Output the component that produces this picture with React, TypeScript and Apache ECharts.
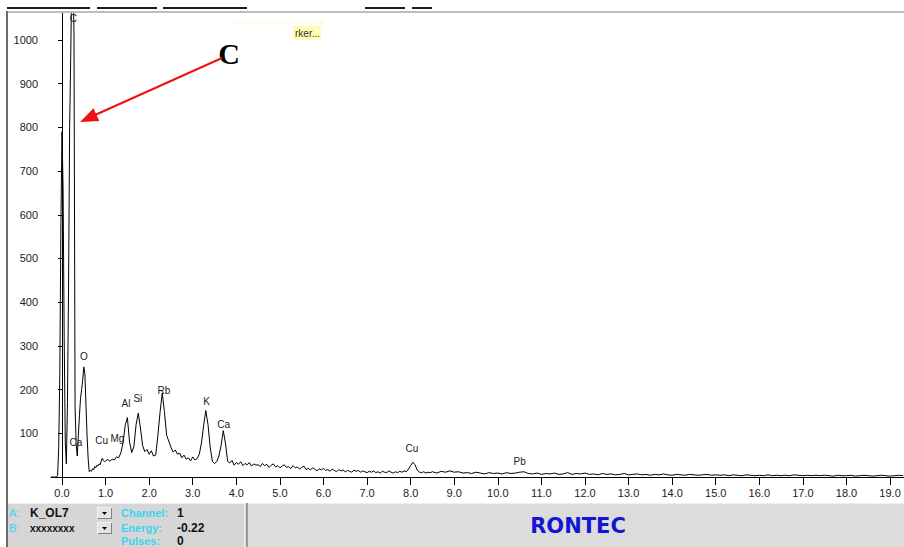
import React, { useEffect, useRef } from "react";
import * as echarts from "echarts";

// ---- spectrum data (counts), in segments of a regular energy grid ----
const seg1Start = -0.25;
const seg1Step = 0.025;
const seg1Counts = [
  0, 0, 0, 0, 0, 0, 4, 70, 240, 580,
  790, 660, 320, 80, 30, 170, 430, 800, 960, 1150,
  1190, 1010, 160, 75, 48, 95, 140, 180, 200, 222,
  252, 236, 165, 95, 42, 12, 15, 13, 19, 16,
  24, 21, 27, 25, 30, 28, 36, 43, 38, 35,
];

const seg2Start = 1.0;
const seg2Step = 0.05;
const seg2Counts = [
  37, 40, 36, 41, 39, 46, 44, 55, 78, 118,
  136, 80, 56, 70, 120, 146, 112, 72, 58, 63,
  52, 60, 48, 50, 95, 148, 192, 150, 96, 82,
  68, 57, 62, 52, 55, 44, 50, 41, 44, 37,
  46, 39, 42, 52, 78, 118, 152, 120, 68, 36,
  31, 35, 48, 72, 106, 78, 36, 32, 38, 27,
  33, 29, 35, 26, 31, 28, 33, 25, 30, 27,
];

const seg3Start = 4.5;
const seg3Step = 0.05;
const seg3Counts = [
  28, 24, 31, 26, 29, 22, 27, 30, 23, 26,
  21, 25, 28, 22, 24, 19, 26, 21, 23, 18,
  22, 25, 17, 20, 16, 21, 18, 14, 19, 16,
  20, 15, 17, 13, 18, 15, 12, 17, 14, 16,
  12, 15, 13, 11, 16, 13, 15, 11, 14, 12,
  10, 13, 11, 14, 10, 12, 9, 13, 11, 10,
  14, 11, 9, 12, 10, 13, 11, 14, 12, 18,
  26, 34, 28, 16, 11, 10, 12, 9, 11, 10,
];

const seg4Start = 8.5;
const seg4Step = 0.1;
const seg4Counts = [
  12, 9, 13, 11, 14, 11, 12, 9, 10, 8,
  11, 9, 7, 10, 8, 9, 7, 10, 8, 9,
  11, 12, 8, 7, 9, 6, 8, 7, 9, 6,
  7, 10, 6, 8, 7, 9, 6, 7, 5, 8,
  6, 7, 5, 6, 8, 5, 6, 7, 5, 6,
  4, 6, 5, 7, 5, 4, 6, 5, 4, 6,
  5, 4, 5, 6, 4, 5, 4, 5, 3, 5,
  4, 3, 5, 4, 3, 4, 3, 5, 3, 4,
  3, 4, 3, 5, 4, 3, 4, 3, 4, 3,
  4, 3, 2, 4, 3, 3, 4, 2, 3, 4,
  3, 2, 3, 4, 3, 2, 3, 4, 3,
];

// ---- axes ----
const xTickValues = [0, 1, 2, 3, 4, 5, 6, 7, 8, 9, 10, 11, 12, 13, 14, 15, 16, 17, 18, 19];
const yTickValues = [100, 200, 300, 400, 500, 600, 700, 800, 900, 1000];
const xMin = -0.2524;
const xMax = 19.32;
const yMax = 1064;

// ---- element labels (label centre in energy / counts) ----
const peakNames = ["C", "O", "Ca", "Cu", "Mg", "Al", "Si", "Rb", "K", "Ca", "Cu", "Pb"];
const peakEnergies = [0.26, 0.505, 0.32, 0.91, 1.27, 1.47, 1.74, 2.34, 3.32, 3.71, 8.03, 10.5];
const peakLabelCounts = [1050, 275, 80, 84, 87, 168, 180, 197, 172, 120, 66, 35];

const segments = [
  { start: seg1Start, step: seg1Step, counts: seg1Counts },
  { start: seg2Start, step: seg2Step, counts: seg2Counts },
  { start: seg3Start, step: seg3Step, counts: seg3Counts },
  { start: seg4Start, step: seg4Step, counts: seg4Counts },
];

const FONT = '"Liberation Sans", Arial, sans-serif';

export default function App() {
  const ref = useRef<HTMLDivElement>(null);

  useEffect(() => {
    if (!ref.current) return;
    const chart = echarts.init(ref.current, null, { renderer: "svg" });

    const spectrum: number[][] = [];
    segments.forEach((s) => {
      s.counts.forEach((c, i) => {
        spectrum.push([Math.round((s.start + i * s.step) * 10000) / 10000, c]);
      });
    });

    const cyan = "#3ad4ee";
    const txt = (x: number, y: number, text: string, font: string, fill: string, align = "left", extra: any = {}) => ({
      type: "text",
      x,
      y,
      silent: true,
      z: 20,
      style: { text, font, fill, align, verticalAlign: "middle", ...extra },
    });
    const rect = (x: number, y: number, w: number, h: number, fill: string, z = 10) => ({
      type: "rect",
      silent: true,
      z,
      shape: { x, y, width: w, height: h },
      style: { fill },
    });
    const button = (x: number, y: number) => [
      rect(x, y, 15, 12, "#f4f4f4", 12),
      rect(x + 1, y + 1, 14, 11, "#808080", 12),
      rect(x + 1, y + 1, 13, 10, "#e4e4e4", 12),
      {
        type: "polygon",
        silent: true,
        z: 13,
        shape: { points: [[x + 5, y + 5], [x + 10, y + 5], [x + 7.5, y + 8]] },
        style: { fill: "#000" },
      },
    ];

    const topSegs = [[7, 90], [97, 157], [163, 247], [365, 405], [412, 432]];

    const graphic: any[] = [
      ...topSegs.map(([a, b]) => rect(a, 7, b - a, 2, "#1e1e1e")),
      rect(7, 11, 897, 2, "#bdbdbd"),
      rect(6, 11, 2, 536, "#6a6a6a"),
      // faint ghost text and yellow tooltip
      rect(232, 20, 92, 4, "#fbfbf0"),
      rect(293, 26, 28, 14, "#ffffb4"),
      txt(295, 33, "rker...", `10px ${FONT}`, "#333"),
      // bottom panel
      rect(8, 503, 896, 44, "#d6d6d6"),
      rect(8, 503, 896, 1, "#efefef"),
      rect(244, 503, 1, 44, "#f2f2f2"),
      rect(246, 503, 2, 44, "#9a9a9a"),
      rect(248, 504, 656, 43, "#dcdcdc"),
      txt(9, 513, "A:", `11px ${FONT}`, cyan),
      txt(30, 513, "K_OL7", `bold 12px ${FONT}`, "#111"),
      txt(9, 528, "B:", `11px ${FONT}`, cyan),
      txt(30, 528, "xxxxxxxx", `bold 10px ${FONT}`, "#111"),
      ...button(97, 507),
      ...button(97, 522),
      txt(121, 513, "Channel:", `bold 11px ${FONT}`, cyan),
      txt(121, 528, "Energy:", `bold 11px ${FONT}`, cyan),
      txt(121, 541, "Pulses:", `bold 11px ${FONT}`, cyan),
      txt(177, 513, "1", `bold 12px ${FONT}`, "#111"),
      txt(177, 528, "-0.22", `bold 12px ${FONT}`, "#111"),
      txt(177, 541, "0", `bold 12px ${FONT}`, "#111"),
      // RONTEC logo
      txt(578, 526, "RONTEC", `bold 21px "DejaVu Sans", sans-serif`, "#1414d4", "center", {
        shadowColor: "rgba(60,60,110,0.55)",
        shadowOffsetX: 2,
        shadowOffsetY: 2,
        shadowBlur: 1,
      }),
      // annotation: big C and red arrow
      txt(229, 53, "C", `bold 30px "Liberation Serif", "Times New Roman", serif`, "#000", "center"),
      {
        type: "line",
        silent: true,
        z: 20,
        shape: { x1: 222, y1: 58, x2: 95, y2: 115 },
        style: { stroke: "#ee1111", lineWidth: 2 },
      },
      {
        type: "polygon",
        silent: true,
        z: 20,
        shape: { points: [[80, 122], [99.3, 121.0], [93.5, 108.2]] },
        style: { fill: "#ee1111" },
      },
    ];

    chart.setOption({
      animation: false,
      backgroundColor: "#ffffff",
      grid: { left: 51, right: 0, top: 12, bottom: 70, containLabel: false, outerBoundsMode: "none" },
      xAxis: {
        type: "value",
        min: xMin,
        max: xMax,
        axisLine: { show: true, onZero: false, lineStyle: { color: "#000", width: 1 } },
        axisTick: { show: true, customValues: xTickValues, length: 8, inside: false, lineStyle: { color: "#000" } },
        axisLabel: {
          show: true,
          customValues: xTickValues,
          formatter: (v: number) => v.toFixed(1),
          color: "#222",
          fontSize: 11,
          fontFamily: FONT,
          margin: 10,
        },
        splitLine: { show: false },
      },
      yAxis: {
        type: "value",
        min: 0,
        max: yMax,
        axisLine: { show: true, lineStyle: { color: "#000", width: 1 } },
        axisTick: { show: true, customValues: yTickValues, length: 4, inside: false, lineStyle: { color: "#000" } },
        axisLabel: {
          show: true,
          customValues: yTickValues,
          formatter: (v: number) => String(Math.round(v)),
          color: "#222",
          fontSize: 11,
          fontFamily: FONT,
          margin: 13,
        },
        splitLine: { show: false },
      },
      series: [
        {
          type: "line",
          data: spectrum,
          showSymbol: false,
          symbol: "none",
          clip: true,
          lineStyle: { color: "#000", width: 1 },
          emphasis: { disabled: true },
          silent: true,
          z: 2,
        },
      ],
      graphic,
    });

    // element labels placed through the chart's own coordinate system
    const labelGraphics = peakNames.map((n, i) => {
      const p = chart.convertToPixel({ gridIndex: 0 }, [peakEnergies[i], peakLabelCounts[i]]) as number[];
      return {
        type: "text",
        x: p[0],
        y: p[1],
        silent: true,
        z: 15,
        style: {
          text: n,
          font: `10px ${FONT}`,
          fill: "#1a1a1a",
          align: "center",
          verticalAlign: "middle",
        },
      };
    });
    chart.setOption({ graphic: [...graphic, ...labelGraphics] });

    return () => chart.dispose();
  }, []);

  return (
    <div
      ref={ref}
      style={{ position: "fixed", left: 0, top: 0, width: 904, height: 547, background: "#fff" }}
    />
  );
}
